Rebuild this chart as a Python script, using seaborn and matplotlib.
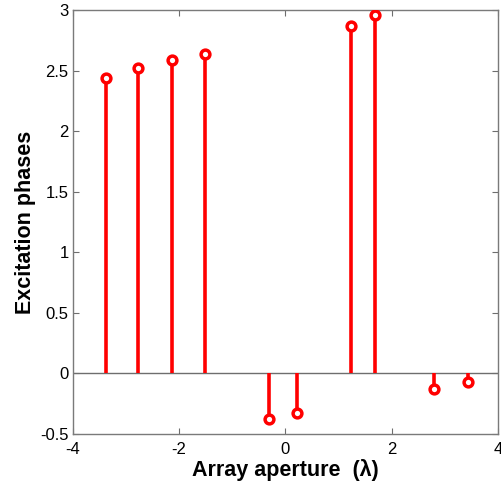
import matplotlib
matplotlib.use("Agg")
import matplotlib.pyplot as plt
import seaborn as sns
import pandas as pd

positions = [-3.38, -2.77, -2.13, -1.51, -0.30, 0.21, 1.23, 1.68, 2.79, 3.43]
phases = [2.44, 2.52, 2.59, 2.64, -0.38, -0.33, 2.87, 2.96, -0.13, -0.07]
xticks = [-4, -2, 0, 2, 4]
xtick_labels = ["-4", "-2", "0", "2", "4"]
yticks = [-0.5, 0, 0.5, 1, 1.5, 2, 2.5, 3]
ytick_labels = ["-0.5", "0", "0.5", "1", "1.5", "2", "2.5", "3"]

sns.set_style("white")
plt.rcParams['font.family'] = ['Liberation Sans', 'DejaVu Sans']
plt.rcParams['text.color'] = 'black'
plt.rcParams['axes.labelcolor'] = 'black'
plt.rcParams['xtick.color'] = 'black'
plt.rcParams['ytick.color'] = 'black'

df = pd.DataFrame({"x": positions, "y": phases})

fig = plt.figure(figsize=(5.02, 4.86), dpi=100)
ax = fig.add_axes([0.145, 0.107, 0.847, 0.872])

ax.axhline(0, color="#6e6e6e", lw=1.0, zorder=1)
ax.vlines(df["x"], 0, df["y"], color="red", lw=2.6, zorder=2)
sns.scatterplot(data=df, x="x", y="y", ax=ax, marker="o", s=40,
                facecolor="white", edgecolor="red", linewidth=2.5, zorder=3)

ax.set_xlim(-4, 4)
ax.set_ylim(-0.5, 3)
ax.set_xticks(xticks)
ax.set_xticklabels(xtick_labels)
ax.set_yticks(yticks)
ax.set_yticklabels(ytick_labels)
ax.tick_params(direction="in", length=4, color="#6e6e6e", labelcolor="black",
               labelsize=12, top=True, right=True, bottom=True, left=True, pad=3)
ax.tick_params(axis="x", pad=6)
for s in ax.spines.values():
    s.set_color("#7a7a7a")
    s.set_linewidth(1.0)

ax.set_xlabel("Array aperture  (λ)", fontsize=15.5, fontweight="bold", labelpad=1, color="black")
ax.set_ylabel("Excitation phases", fontsize=15.5, fontweight="bold", labelpad=3, color="black")

fig.savefig("out.png", dpi=100)
